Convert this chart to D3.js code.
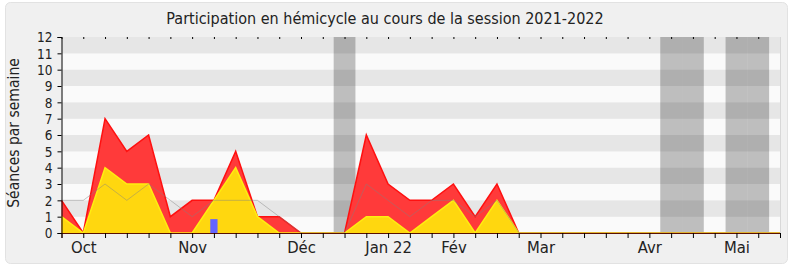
<!DOCTYPE html>
<html>
<head>
<meta charset="utf-8">
<script src="https://cdn.jsdelivr.net/npm/d3@7"></script>
<style>
body { margin: 0; background: #fff; }
svg text { font-family: "DejaVu Sans Condensed", "DejaVu Sans", sans-serif; fill: #222; }
</style>
</head>
<body>
<svg id="chart" width="790" height="267"></svg>
<script>
// semaines de sept. 2021 a mai 2022
var presences      = [2,0,7,5,6,1,2,2,5,1,1,0,0,0,6,3,2,2,3,1,3,0,0,0,0,0,0,0,0,0,0,0,0,0];
var participations = [1,0,4,3,3,0,0,2,4,1,0,0,0,0,1,1,0,1,2,0,2,0,0,0,0,0,0,0,0,0,0,0,0,0];
var mediane        = [2,2,3,2,3,2,1,2,2,2,1,0,0,0,3,2,1,2,2,1,2,0,0,0,0,0,0,0,0,0,0,0,0,0];
var questions      = [0,0,0,0,0,0,0,0.85,0,0,0,0,0,0,0,0,0,0,0,0,0,0,0,0,0,0,0,0,0,0,0,0,0,0];
var vacances = [13, 28, 29, 31, 32];
var moisSemaines = [1, 6, 11, 15, 18, 22, 27, 31];
var moisLabels = ["Oct", "Nov", "Déc", "Jan 22", "Fév", "Mar", "Avr", "Mai"];
var yTicks = d3.range(0, 13);

var svg = d3.select("#chart");
var weeks = d3.range(presences.length);
var x = d3.scaleLinear().domain([0, weeks.length - 1]).range([61.5, 780]);
var y = d3.scaleLinear().domain([0, 12]).range([233, 37]);
var step = x(1) - x(0);

svg.append("rect").attr("x", 5.5).attr("y", 2.5).attr("width", 782).attr("height", 261)
    .attr("rx", 5).style("fill", "#f0f0f0").style("stroke", "#e2e2e2");

svg.append("text").attr("x", 385).attr("y", 24).attr("text-anchor", "middle")
    .style("font-size", "16px").text("Participation en hémicycle au cours de la session 2021-2022");

// bandes horizontales
svg.append("g").selectAll("rect").data(d3.range(0, 12)).join("rect")
    .attr("x", x(0)).attr("width", x(weeks.length - 1) - x(0))
    .attr("y", function (d) { return y(d + 1); })
    .attr("height", function (d) { return y(d) - y(d + 1); })
    .style("fill", function (d) { return d % 2 ? "#e6e6e6" : "#fafafa"; });

// vacances parlementaires
svg.append("g").selectAll("rect").data(vacances).join("rect")
    .attr("x", function (d) { return x(d - 0.5); }).attr("width", step)
    .attr("y", y(12)).attr("height", y(0) - y(12))
    .style("fill", "#000").style("opacity", 0.24);

var area = function (vals) {
    return d3.area().x(function (d) { return x(d); })
        .y0(y(0)).y1(function (d) { return y(vals[d]); })(weeks);
};
var line = function (vals) {
    return d3.line().x(function (d) { return x(d); })
        .y(function (d) { return y(vals[d]); })(weeks);
};

svg.append("path").attr("d", area(presences)).style("fill", "#ff3a3a");
svg.append("path").attr("d", line(presences)).style("fill", "none").style("stroke", "#ff1010").style("stroke-width", 1.5);
svg.append("path").attr("d", area(participations)).style("fill", "#ffd70f");
svg.append("path").attr("d", line(participations)).style("fill", "none").style("stroke", "#ffee10").style("stroke-width", 1.5);
svg.append("path").attr("d", line(mediane)).style("fill", "none").style("stroke", "#808080").style("opacity", 0.45);

svg.append("g").selectAll("rect").data(weeks.filter(function (d) { return questions[d] > 0; })).join("rect")
    .attr("x", function (d) { return x(d) - step / 6; }).attr("width", step / 3)
    .attr("y", function (d) { return y(questions[d]); })
    .attr("height", function (d) { return y(0) - y(questions[d]); })
    .style("fill", "#6464ff");

// axes
var yAxis = svg.append("g").attr("transform", "translate(" + x(0) + ",0)")
    .call(d3.axisLeft(y).tickValues(yTicks).tickSize(4).tickPadding(5));
yAxis.selectAll("text").style("font-size", "13.5px").attr("dy", "0.36em");

var xAxis = svg.append("g").attr("transform", "translate(0," + y(0) + ")")
    .call(d3.axisBottom(x).tickValues(weeks).tickSize(5).tickFormat(function (d) {
        var i = moisSemaines.indexOf(d);
        return i < 0 ? "" : moisLabels[i];
    }).tickPadding(3));
xAxis.selectAll("text").style("font-size", "16.5px");
xAxis.select(".domain").style("stroke", "#5a1000");

svg.append("g").attr("transform", "translate(0," + y(12) + ")")
    .call(d3.axisBottom(x).tickValues(weeks).tickSize(2).tickFormat(""))
    .select(".domain").remove();

svg.append("line").attr("x1", 780.5).attr("x2", 780.5).attr("y1", y(12)).attr("y2", y(0))
    .style("stroke", "#d8d8d8");

svg.append("text").attr("transform", "translate(19,133) rotate(-90)")
    .attr("text-anchor", "middle").style("font-size", "15.5px").text("Séances par semaine");
</script>
</body>
</html>
